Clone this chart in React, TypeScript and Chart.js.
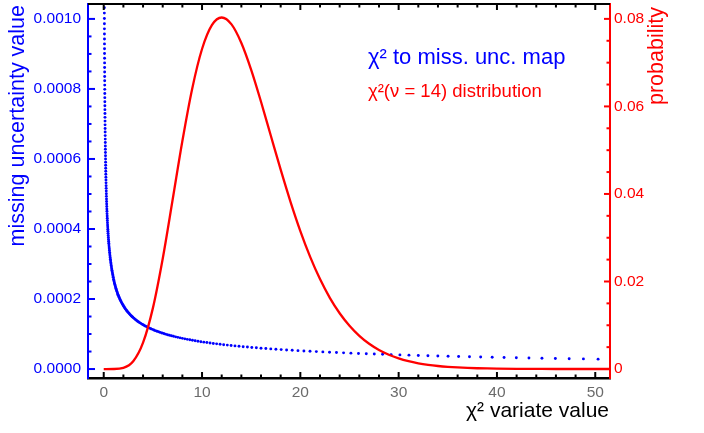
import { useEffect, useRef } from "react";
import { Chart, registerables } from "chart.js";
Chart.register(...registerables);

const FONT = "'Liberation Sans', Arial, Helvetica, sans-serif";
const BLUE = "#0000ff";
const RED = "#ff0000";

// chi^2 variate values (x) and the mapped missing-uncertainty values (left axis)
const BLUE_X = [
  0.05884, 0.06064,
  0.0625, 0.06441, 0.06638, 0.06841, 0.07051, 0.07266, 0.07489, 0.07718, 0.07954, 0.08197, 0.08448, 0.08707, 0.08973, 0.09248, 0.0953, 0.09822, 0.10123, 0.10432, 0.10751, 0.1108, 0.11419, 0.11769, 0.12129,
  0.125, 0.1288, 0.1328, 0.1368, 0.141, 0.1453, 0.1498, 0.1544, 0.1591, 0.1639, 0.169, 0.1741, 0.1795, 0.185, 0.1906, 0.1964, 0.2025, 0.2086, 0.215, 0.2216, 0.2284, 0.2354, 0.2426,
  0.25, 0.2577, 0.2655, 0.2737, 0.282, 0.2907, 0.2996, 0.3087, 0.3182, 0.3279, 0.3379, 0.3483, 0.3589, 0.3699, 0.3812, 0.3929, 0.4049, 0.4173, 0.4301, 0.4432, 0.4568, 0.4708, 0.4852,
  0.5, 0.5153, 0.5311, 0.5473, 0.5641, 0.5813, 0.5991, 0.6174, 0.6363, 0.6558, 0.6759, 0.6965, 0.7178, 0.7398, 0.7624, 0.7858, 0.8098, 0.8346, 0.8601, 0.8864, 0.9136, 0.9415, 0.9703,
  1, 1.0306, 1.0621, 1.0946, 1.1281, 1.1626, 1.1982, 1.2349, 1.2726, 1.3116, 1.3517, 1.3931, 1.4357, 1.4796, 1.5249, 1.5715, 1.6196, 1.6692, 1.7202, 1.7729, 1.8271, 1.883, 1.9406,
  2, 2.0612, 2.1243, 2.1892, 2.2562, 2.3253, 2.3964, 2.4697, 2.5453, 2.6232, 2.7034, 2.7861, 2.8714, 2.9592, 3.0497, 3.143, 3.2392, 3.3383, 3.4405, 3.5457, 3.6542, 3.766, 3.8812,
  4, 4.1224, 4.2485, 4.3785, 4.5124, 4.6505, 4.7928, 4.9394, 5.0906, 5.2463, 5.4068, 5.5722, 5.7427, 5.9184, 6.0995, 6.2861, 6.4784, 6.6766, 6.8809, 7.0914, 7.3084, 7.532, 7.7624,
  8, 8.245, 8.497, 8.757, 9.025, 9.301, 9.586, 9.879, 10.181, 10.493, 10.814, 11.144, 11.485, 11.837, 12.199, 12.572, 12.957, 13.353, 13.762, 14.183, 14.617, 15.064, 15.525,
  16, 16.49, 16.994, 17.514, 18.05, 18.602, 19.171, 19.758, 20.362, 20.985, 21.627, 22.289, 22.971, 23.674, 24.398, 25.144, 25.914, 26.707, 27.524, 28.366, 29.234, 30.128, 31.05,
  32, 32.979, 33.988, 35.028, 36.1, 37.204, 38.342, 39.516, 40.724, 41.971, 43.255, 44.578, 45.942, 47.347, 48.796, 50.289, 51.827,
];
const BLUE_Y = [
  0.0010635, 0.0010476,
  0.001032, 0.0010166, 0.0010014, 0.0009864, 0.0009716, 0.0009571, 0.0009428, 0.0009287, 0.0009148, 0.0009011, 0.0008876, 0.0008744, 0.0008613, 0.0008484, 0.0008357, 0.0008232, 0.0008109, 0.0007988, 0.0007868, 0.0007751, 0.0007635, 0.0007521, 0.0007408,
  0.0007297, 0.0007188, 0.0007081, 0.0006975, 0.000687, 0.0006768, 0.0006667, 0.0006567, 0.0006469, 0.0006372, 0.0006277, 0.0006183, 0.000609, 0.0005999, 0.0005909, 0.0005821, 0.0005734, 0.0005648, 0.0005564, 0.0005481, 0.0005399, 0.0005318, 0.0005238,
  0.000516, 0.0005083, 0.0005007, 0.0004932, 0.0004858, 0.0004786, 0.0004714, 0.0004643, 0.0004574, 0.0004506, 0.0004438, 0.0004372, 0.0004307, 0.0004242, 0.0004179, 0.0004116, 0.0004055, 0.0003994, 0.0003934, 0.0003875, 0.0003817, 0.000376, 0.0003704,
  0.0003649, 0.0003594, 0.000354, 0.0003487, 0.0003435, 0.0003384, 0.0003333, 0.0003283, 0.0003234, 0.0003186, 0.0003138, 0.0003091, 0.0003045, 0.0003, 0.0002955, 0.0002911, 0.0002867, 0.0002824, 0.0002782, 0.000274, 0.0002699, 0.0002659, 0.0002619,
  0.0002567, 0.0002528, 0.000249, 0.0002453, 0.0002415, 0.0002379, 0.0002343, 0.0002307, 0.0002272, 0.0002238, 0.0002204, 0.0002171, 0.0002138, 0.0002105, 0.0002073, 0.0002042, 0.0002011, 0.000198, 0.000195, 0.0001921, 0.0001891, 0.0001862, 0.0001834,
  0.0001806, 0.0001779, 0.0001751, 0.0001725, 0.0001698, 0.0001672, 0.0001647, 0.0001622, 0.0001597, 0.0001572, 0.0001548, 0.0001524, 0.0001501, 0.0001478, 0.0001455, 0.0001433, 0.000141, 0.0001389, 0.0001367, 0.0001346, 0.0001325, 0.0001305, 0.0001284,
  0.0001264, 0.0001245, 0.0001225, 0.0001206, 0.0001187, 0.0001169, 0.0001151, 0.0001133, 0.0001115, 0.0001097, 0.000108, 0.0001063, 0.0001046, 0.000103, 0.0001013, 0.0000997, 0.0000981, 0.0000966, 0.000095, 0.0000935, 0.000092, 0.0000905, 0.0000891,
  0.00008764, 0.00008622, 0.00008483, 0.00008345, 0.00008209, 0.00008075, 0.00007943, 0.00007813, 0.00007685, 0.00007558, 0.00007433, 0.0000731, 0.00007188, 0.00007068, 0.0000695, 0.00006833, 0.00006718, 0.00006604, 0.00006492, 0.00006382, 0.00006273, 0.00006165, 0.00006059,
  0.00005954, 0.00005851, 0.00005749, 0.00005648, 0.00005548, 0.0000545, 0.00005354, 0.00005258, 0.00005164, 0.00005071, 0.00004979, 0.00004888, 0.00004799, 0.00004711, 0.00004623, 0.00004537, 0.00004452, 0.00004368, 0.00004285, 0.00004204, 0.00004123, 0.00004043, 0.00003964,
  0.00003886, 0.0000381, 0.00003734, 0.00003659, 0.00003585, 0.00003512, 0.0000344, 0.00003368, 0.00003298, 0.00003228, 0.0000316, 0.00003092, 0.00003025, 0.00002959, 0.00002893, 0.00002829, 0.00002765,
];

// chi^2 (nu = 14) probability density (right axis)
const RED_X = [0, 1, 2, 3, 4, 5, 6, 7, 8, 9, 10, 11, 12, 13, 14, 15, 16, 17, 18, 19, 20, 21, 22, 23, 24, 25, 26, 27, 28, 29, 30, 31, 32, 33, 34, 35, 36, 37, 38, 39, 40, 42, 44, 46, 48, 50, 52];
const RED_Y = [
  0, 0.0000066, 0.000255, 0.001765, 0.006015, 0.013917, 0.025205, 0.038549, 0.052098, 0.064061, 0.073111,
  0.078559, 0.080316, 0.078739, 0.074502, 0.068359, 0.06107, 0.05329, 0.045545, 0.03821, 0.031528,
  0.025626, 0.020547, 0.016272, 0.012741, 0.009872, 0.007577, 0.005763, 0.004348, 0.003255, 0.00242,
  0.001787, 0.001311, 0.000957, 0.000694, 0.000501, 0.00036, 0.000257, 0.000183, 0.00013, 0.0000916,
  0.0000452, 0.000022, 0.0000105, 0.000005, 0.0000024, 0.0000011,
];

const X_TICKS = [0, 10, 20, 30, 40, 50];
const X_TICK_LABELS = ["0", "10", "20", "30", "40", "50"];
const X_MINOR = [2, 4, 6, 8, 12, 14, 16, 18, 22, 24, 26, 28, 32, 34, 36, 38, 42, 44, 46, 48];
const LEFT_TICKS = [0, 0.0002, 0.0004, 0.0006, 0.0008, 0.001];
const LEFT_TICK_LABELS = ["0.0000", "0.0002", "0.0004", "0.0006", "0.0008", "0.0010"];
const LEFT_MINOR = [0.00005, 0.0001, 0.00015, 0.00025, 0.0003, 0.00035, 0.00045, 0.0005, 0.00055, 0.00065, 0.0007, 0.00075, 0.00085, 0.0009, 0.00095];
const RIGHT_TICKS = [0, 0.02, 0.04, 0.06, 0.08];
const RIGHT_TICK_LABELS = ["0", "0.02", "0.04", "0.06", "0.08"];
const RIGHT_MINOR = [0.005, 0.01, 0.015, 0.025, 0.03, 0.035, 0.045, 0.05, 0.055, 0.065, 0.07, 0.075];

const X_TITLE = "χ² variate value";
const LEFT_TITLE = "missing uncertainty value";
const RIGHT_TITLE = "probability";
const BLUE_LABEL = "χ² to miss. unc. map";
const RED_LABEL = "χ²(ν = 14) distribution";

export default function App() {
  const ref = useRef<HTMLCanvasElement>(null);

  useEffect(() => {
    document.body.style.margin = "0";
    const canvas = ref.current;
    if (!canvas) return;

    const blueData = BLUE_X.map((x, i) => ({ x, y: BLUE_Y[i] }));
    const redData = RED_X.map((x, i) => ({ x, y: RED_Y[i] }));

    const decor = {
      id: "decor",
      afterDraw(chart: any) {
        const { ctx, chartArea: a, scales } = chart;
        const sx = scales.x;
        const sl = scales.y;
        const sr = scales.y1;
        const seg = (x1: number, y1: number, x2: number, y2: number) => {
          ctx.beginPath();
          ctx.moveTo(x1, y1);
          ctx.lineTo(x2, y2);
          ctx.stroke();
        };
        ctx.save();
        ctx.lineCap = "butt";
        // top frame line
        ctx.strokeStyle = "#000";
        ctx.lineWidth = 2;
        seg(a.left, a.top, a.right, a.top);
        // x ticks (bottom and top, inward)
        const xt = (v: number, len: number) => {
          const px = sx.getPixelForValue(v);
          seg(px, a.bottom, px, a.bottom - len);
          seg(px, a.top, px, a.top + len);
        };
        X_TICKS.forEach((v) => xt(v, 6));
        X_MINOR.forEach((v) => xt(v, 3.5));
        // left ticks
        ctx.strokeStyle = BLUE;
        const lt = (v: number, len: number) => {
          const py = sl.getPixelForValue(v);
          seg(a.left, py, a.left + len, py);
        };
        LEFT_TICKS.forEach((v) => lt(v, 7));
        LEFT_MINOR.forEach((v) => lt(v, 3.5));
        // right ticks
        ctx.strokeStyle = RED;
        const rt = (v: number, len: number) => {
          const py = sr.getPixelForValue(v);
          seg(a.right, py, a.right - len, py);
        };
        RIGHT_TICKS.forEach((v) => rt(v, 6));
        RIGHT_MINOR.forEach((v) => rt(v, 3.5));

        // axis titles
        ctx.textBaseline = "middle";
        ctx.fillStyle = BLUE;
        ctx.font = `21.5px ${FONT}`;
        ctx.save();
        ctx.translate(18, a.top + 1);
        ctx.rotate(-Math.PI / 2);
        ctx.textAlign = "right";
        ctx.fillText(LEFT_TITLE, 0, 0);
        ctx.restore();

        ctx.fillStyle = RED;
        ctx.save();
        ctx.translate(657, a.top + 3);
        ctx.rotate(-Math.PI / 2);
        ctx.textAlign = "right";
        ctx.fillText(RIGHT_TITLE, 0, 0);
        ctx.restore();

        ctx.fillStyle = "#000";
        ctx.textAlign = "right";
        ctx.textBaseline = "alphabetic";
        ctx.font = `21px ${FONT}`;
        ctx.fillText(X_TITLE, a.right - 1, 417);

        // series labels
        ctx.textAlign = "left";
        ctx.fillStyle = BLUE;
        ctx.font = `22px ${FONT}`;
        ctx.fillText(BLUE_LABEL, 368, 64);
        ctx.fillStyle = RED;
        ctx.font = `18.5px ${FONT}`;
        ctx.fillText(RED_LABEL, 368, 97);
        ctx.restore();
      },
    };

    const chart = new Chart(canvas, {
      type: "scatter",
      data: {
        datasets: [
          {
            label: "chi2 distribution",
            data: redData,
            yAxisID: "y1",
            showLine: true,
            borderColor: RED,
            backgroundColor: RED,
            borderWidth: 2.3,
            pointRadius: 0,
            cubicInterpolationMode: "monotone",
            clip: 0,
          },
          {
            label: "map",
            data: blueData,
            yAxisID: "y",
            showLine: false,
            pointRadius: 1.45,
            pointBorderWidth: 0,
            pointBackgroundColor: BLUE,
            backgroundColor: BLUE,
            borderColor: BLUE,
            clip: 0,
          },
        ],
      },
      plugins: [decor],
      options: {
        responsive: false,
        animation: false,
        layout: { padding: { top: 2, left: 0, right: 0, bottom: 0 } },
        plugins: { legend: { display: false }, tooltip: { enabled: false } },
        scales: {
          x: {
            type: "linear",
            min: -1.6,
            max: 51.5,
            afterFit: (s: any) => {
              s.height = 55;
              s.paddingLeft = 0;
              s.paddingRight = 0;
            },
            afterBuildTicks: (s: any) => {
              s.ticks = X_TICKS.map((v) => ({ value: v }));
            },
            grid: { display: false, drawTicks: false },
            border: { display: true, color: "#000", width: 2.5 },
            ticks: {
              padding: 5,
              color: "#6b6b6b",
              font: { family: FONT, size: 15.5 },
              maxRotation: 0,
              callback: (_v: any, i: number) => X_TICK_LABELS[i],
            },
          },
          y: {
            type: "linear",
            position: "left",
            min: -0.0000256,
            max: 0.0010426,
            afterFit: (s: any) => {
              s.width = 88;
              s.paddingTop = 0;
              s.paddingBottom = 0;
            },
            afterBuildTicks: (s: any) => {
              s.ticks = LEFT_TICKS.map((v) => ({ value: v }));
            },
            grid: { display: false, drawTicks: false },
            border: { display: true, color: BLUE, width: 2 },
            ticks: {
              padding: 7,
              color: BLUE,
              font: { family: FONT, size: 15.5 },
              callback: (_v: any, i: number) => LEFT_TICK_LABELS[i],
            },
          },
          y1: {
            type: "linear",
            position: "right",
            min: -0.00205,
            max: 0.0834,
            afterFit: (s: any) => {
              s.width = 94;
              s.paddingTop = 0;
              s.paddingBottom = 0;
            },
            afterBuildTicks: (s: any) => {
              s.ticks = RIGHT_TICKS.map((v) => ({ value: v }));
            },
            grid: { display: false, drawTicks: false },
            border: { display: true, color: RED, width: 2 },
            ticks: {
              padding: 4,
              color: RED,
              font: { family: FONT, size: 15.5 },
              callback: (_v: any, i: number) => RIGHT_TICK_LABELS[i],
            },
          },
        },
      },
    } as any);

    return () => chart.destroy();
  }, []);

  return <canvas ref={ref} width={704} height={433} style={{ display: "block" }} />;
}
